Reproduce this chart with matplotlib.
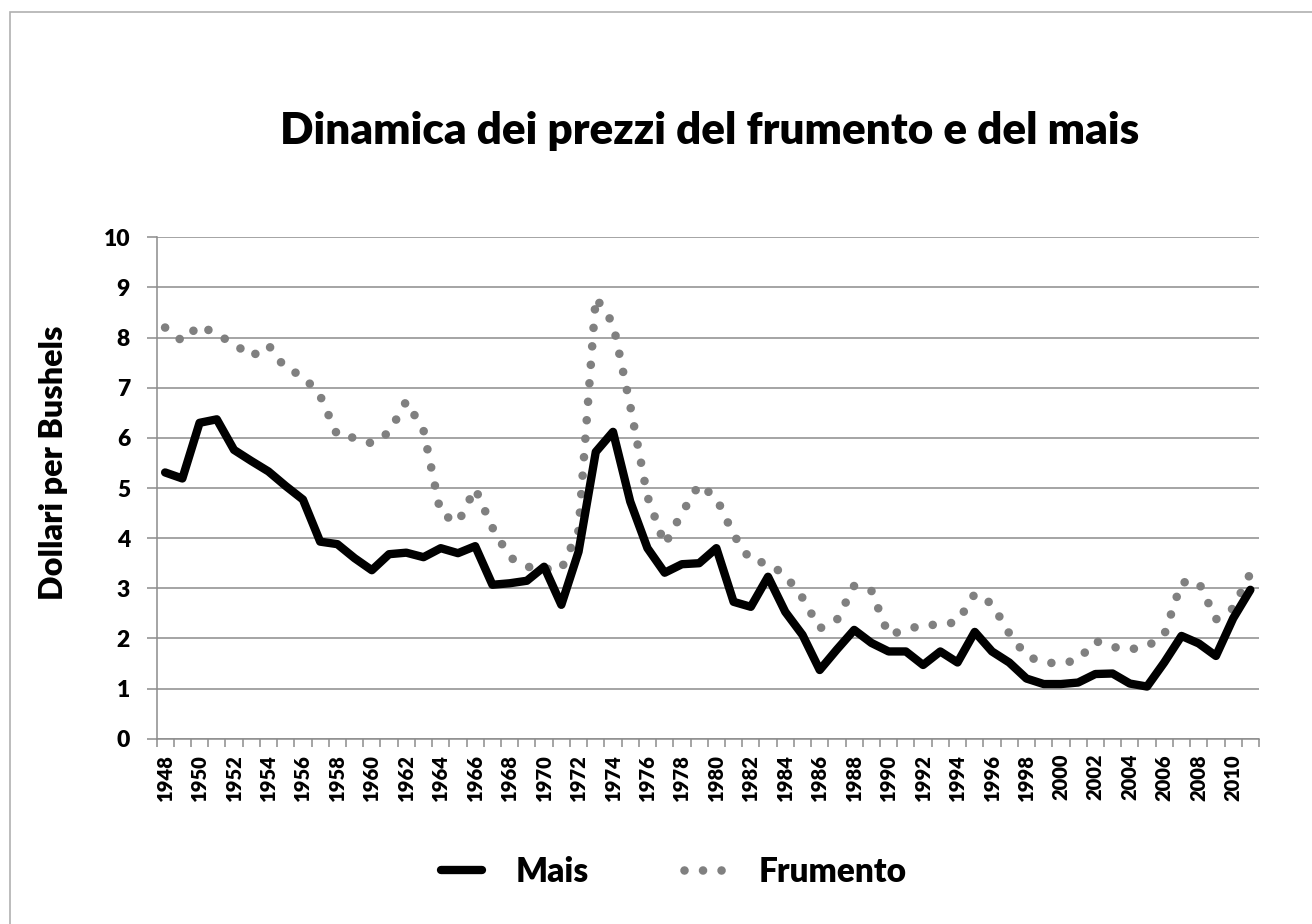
import matplotlib
matplotlib.use("Agg")
import matplotlib.pyplot as plt
from matplotlib.patches import Rectangle
import numpy as np

years = list(range(1948, 2012))
mais = [5.31, 5.19, 6.30, 6.37, 5.76, 5.54, 5.33, 5.04, 4.77, 3.93,
        3.88, 3.60, 3.36, 3.68, 3.71, 3.62, 3.80, 3.70, 3.84, 3.07,
        3.10, 3.15, 3.43, 2.67, 3.73, 5.72, 6.12, 4.73, 3.80, 3.31,
        3.48, 3.50, 3.80, 2.73, 2.63, 3.23, 2.53, 2.07, 1.37, 1.78,
        2.17, 1.91, 1.74, 1.74, 1.47, 1.74, 1.52, 2.13, 1.74, 1.52,
        1.20, 1.09, 1.09, 1.12, 1.29, 1.30, 1.10, 1.04, 1.52, 2.05,
        1.90, 1.65, 2.40, 2.97]
frumento = [8.20, 7.93, 8.25, 8.06, 7.88, 7.62, 7.85, 7.38, 7.24, 6.84,
            6.05, 6.00, 5.89, 6.11, 6.73, 6.15, 4.49, 4.31, 4.99, 4.21,
            3.62, 3.43, 3.39, 3.38, 4.15, 8.80, 8.28, 6.64, 4.83, 3.87,
            4.50, 5.07, 4.80, 4.07, 3.55, 3.50, 3.26, 2.81, 2.20, 2.37,
            3.05, 2.95, 2.07, 2.17, 2.27, 2.27, 2.33, 2.89, 2.69, 2.10,
            1.65, 1.52, 1.50, 1.57, 1.95, 1.83, 1.78, 1.84, 2.07, 3.12,
            3.12, 2.38, 2.60, 3.30]
title = "Dinamica dei prezzi del frumento e del mais"
ylabel = "Dollari per Bushels"
series_names = ["Mais", "Frumento"]

WT = 'heavy'
plt.rcParams['font.family'] = ['Lato', 'DejaVu Sans']
plt.rcParams['font.weight'] = WT

W, H = 1312, 924
fig = plt.figure(figsize=(W / 100, H / 100), dpi=100)
ax = fig.add_axes([156.5 / W, 1 - 738.7 / H, (1259 - 156.5) / W, (738.7 - 237.3) / H])

x = np.arange(len(years))
grid_c = '#8c8c8c'

ax.plot(x, mais, color='black', lw=6.0, solid_joinstyle='round',
        solid_capstyle='round', label=series_names[0], zorder=4)
ax.plot(x, frumento, color='#808080', lw=6.2, linestyle=(0, (0.001, 2.15)),
        dash_capstyle='round', label=series_names[1], zorder=3)

ax.set_xlim(-0.5, len(years) - 0.5)
ax.set_ylim(0, 10)
ax.set_yticks(range(0, 11))
ax.yaxis.grid(True, color=grid_c, lw=1.1)
ax.set_axisbelow(True)

ax.set_xticks(x[::2])
ax.set_xticklabels([str(y) for y in years[::2]], rotation=90, fontsize=14.5,
                   fontweight=WT)
ax.set_xticks(np.arange(-0.5, len(years)), minor=True)
ax.tick_params(axis='x', which='major', length=0, pad=11)
ax.tick_params(axis='x', which='minor', length=6, width=1.1, color=grid_c,
               direction='out')
ax.tick_params(axis='y', which='major', length=7, width=1.1, color=grid_c,
               direction='out', labelsize=16.5, pad=12)
for lab in ax.get_yticklabels():
    lab.set_fontweight(WT)

for s in ['top', 'right']:
    ax.spines[s].set_visible(False)
for s in ['left', 'bottom']:
    ax.spines[s].set_color(grid_c)
    ax.spines[s].set_linewidth(1.1)

fig.text(710 / W, 1 - 131 / H, title, ha='center', va='center',
         fontsize=31.7, fontweight=WT)
fig.text(53 / W, 1 - 463 / H, ylabel, rotation=90, ha='center', va='center',
         fontsize=23.2, fontweight=WT)

fig.legend(loc='center', bbox_to_anchor=(674 / W, 1 - 872 / H), ncol=2,
           frameon=False, prop={'size': 24, 'weight': WT},
           handlelength=1.25, handletextpad=1.0, columnspacing=2.85)

fig.add_artist(Rectangle((9.5 / W, -0.02), 1.2, 1 - 12 / H + 0.02,
                         transform=fig.transFigure, fill=False,
                         ec='#b0b0b0', lw=1.2))

fig.savefig('out.png', dpi=100)
